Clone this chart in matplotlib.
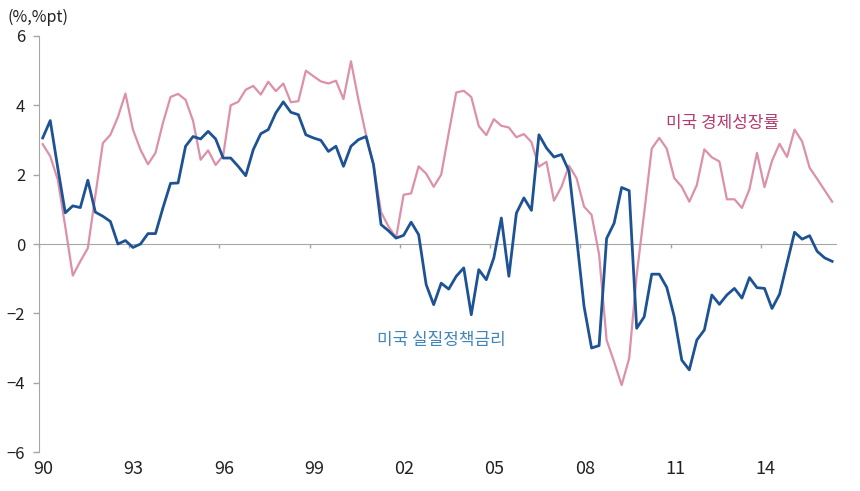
import matplotlib
matplotlib.use('Agg')
import matplotlib.pyplot as plt
import numpy as np

plt.rcParams['font.family'] = ['Noto Sans CJK KR', 'DejaVu Sans']

# quarterly data, 1990Q1 .. 2016Q2
start_year = 1990
real_policy_rate = [
    3.06, 3.56, 2.2, 0.9, 1.1, 1.05, 1.84, 0.92, 0.8, 0.65,
    0.0, 0.1, -0.1, 0.0, 0.3, 0.3, 1.05, 1.75, 1.76, 2.82,
    3.1, 3.03, 3.25, 3.03, 2.48, 2.48, 2.24, 1.97, 2.72, 3.18,
    3.3, 3.78, 4.1, 3.8, 3.73, 3.15, 3.06, 2.99, 2.67, 2.82,
    2.24, 2.82, 3.01, 3.1, 2.29, 0.56, 0.38, 0.17, 0.25, 0.63,
    0.27, -1.17, -1.75, -1.13, -1.3, -0.93, -0.69, -2.04, -0.74, -1.03,
    -0.4, 0.75, -0.93, 0.89, 1.33, 0.97, 3.15, 2.77, 2.51, 2.58,
    2.1, 0.2, -1.8, -3.0, -2.93, 0.16, 0.6, 1.63, 1.54, -2.43,
    -2.1, -0.87, -0.87, -1.25, -2.1, -3.35, -3.63, -2.77, -2.48, -1.47,
    -1.74, -1.47, -1.28, -1.56, -0.97, -1.26, -1.28, -1.86, -1.45, -0.55,
    0.34, 0.14, 0.24, -0.21, -0.4, -0.5,
]
gdp_growth = [
    2.88, 2.53, 1.86, 0.5, -0.91, -0.5, -0.12, 1.4, 2.91, 3.15,
    3.66, 4.34, 3.3, 2.72, 2.3, 2.63, 3.5, 4.24, 4.33, 4.16,
    3.55, 2.43, 2.7, 2.28, 2.55, 4.0, 4.1, 4.45, 4.56, 4.31,
    4.68, 4.41, 4.63, 4.09, 4.12, 5.0, 4.84, 4.69, 4.63, 4.71,
    4.18, 5.27, 4.15, 3.15, 2.27, 0.92, 0.5, 0.18, 1.42, 1.46,
    2.24, 2.03, 1.65, 2.0, 3.2, 4.37, 4.42, 4.24, 3.4, 3.14,
    3.6, 3.41, 3.36, 3.08, 3.17, 2.94, 2.23, 2.37, 1.25, 1.65,
    2.26, 1.9, 1.08, 0.84, -0.3, -2.77, -3.4, -4.07, -3.3, -0.9,
    0.9, 2.75, 3.06, 2.75, 1.9, 1.65, 1.22, 1.7, 2.73, 2.5,
    2.38, 1.29, 1.29, 1.04, 1.58, 2.63, 1.64, 2.4, 2.89, 2.51,
    3.3, 2.96, 2.2, 1.88, 1.55, 1.22,
]
tick_years = [1990, 1993, 1996, 1999, 2002, 2005, 2008, 2011, 2014]
tick_labels = ['90', '93', '96', '99', '02', '05', '08', '11', '14']

# x position = middle of each quarter
x = start_year + (np.arange(len(gdp_growth)) + 0.5) / 4

fig = plt.figure(figsize=(8.6, 4.91), dpi=100)
ax = fig.add_axes([0.0453, 0.0794, 0.9267, 0.8473])

ax.plot(x, gdp_growth, color='#dc90a9', lw=1.6, zorder=2)
ax.plot(x, real_policy_rate, color='#1d5394', lw=2.0, zorder=3)

ax.set_xlim(1990, 2016.5)
ax.set_ylim(-6, 6)

grey = '#a6a6a6'
for s in ['top', 'right']:
    ax.spines[s].set_visible(False)
ax.spines['left'].set_color(grey)
ax.spines['bottom'].set_color(grey)
ax.spines['bottom'].set_position(('data', 0))

ax.set_yticks([-6, -4, -2, 0, 2, 4, 6])
ax.set_yticklabels(['\u22126', '\u22124', '\u22122', '0', '2', '4', '6'])
ax.tick_params(axis='y', colors=grey, labelcolor='#222222', labelsize=12,
               length=4, width=1, pad=6)

ax.set_xticks(tick_years)
ax.tick_params(axis='x', colors=grey, length=3, width=1, labelbottom=False)

# labels at the bottom of the plot
sec = ax.secondary_xaxis(location=0)
sec.set_xticks([t + 0.15 for t in tick_years])
sec.set_xticklabels(tick_labels)
sec.spines['bottom'].set_visible(False)
sec.tick_params(axis='x', length=0, labelsize=13, labelcolor='#222222', pad=6)

ax.text(2012.73, 3.49, '미국 경제성장률', color='#b23c70', fontsize=12.2,
        ha='center', va='center')
ax.text(2003.37, -2.77, '미국 실질정책금리', color='#3f86ba', fontsize=12.2,
        ha='center', va='center')

fig.text(0.009, 0.965, '(%,%pt)', fontsize=11.5, color='#222222', ha='left', va='center')

fig.savefig('out.png', dpi=100, facecolor='white')
